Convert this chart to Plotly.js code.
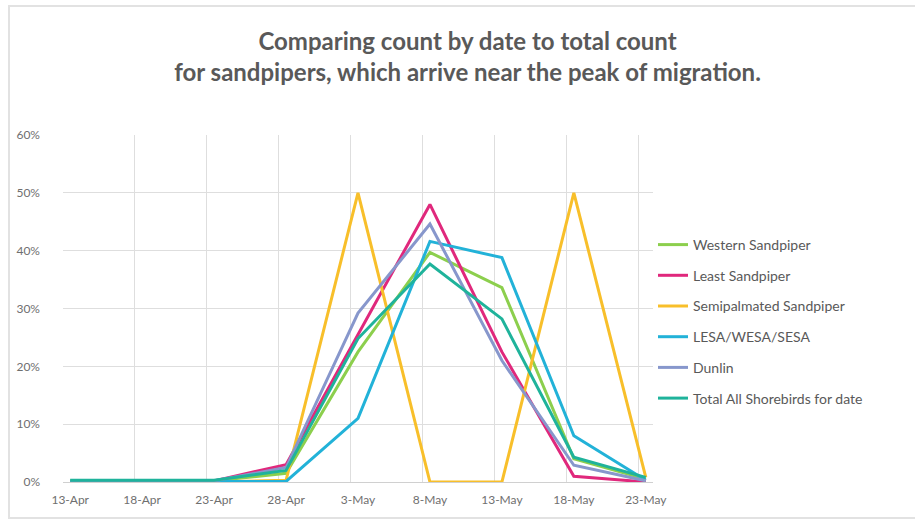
<!DOCTYPE html>
<html>
<head>
<meta charset="utf-8">
<script src="https://cdn.plot.ly/plotly-3.0.1.min.js"></script>
<style>
  html, body { margin: 0; padding: 0; background: #ffffff; overflow: hidden; }
  #wrap { position: relative; width: 915px; height: 523px; }
  #chart { position: absolute; left: 0; top: 0; width: 915px; height: 523px; }
  #frame { position: absolute; left: 8px; top: 5px; width: 915px; height: 514px;
           border: 2px solid #e2e2e2; pointer-events: none; box-sizing: border-box; }
</style>
</head>
<body>
<div id="wrap"><div id="chart"></div><div id="frame"></div></div>
<script>
// ---- data (values in percent) ----
const dates = ["2016-04-13","2016-04-18","2016-04-23","2016-04-28","2016-05-03","2016-05-08","2016-05-13","2016-05-18","2016-05-23"];
const dateLabels = ["13-Apr","18-Apr","23-Apr","28-Apr","3-May","8-May","13-May","18-May","23-May"];
const seriesNames = ["Western Sandpiper","Least Sandpiper","Semipalmated Sandpiper","LESA/WESA/SESA","Dunlin","Total All Shorebirds for date"];
const westernSandpiper = [0.2, 0.2, 0.2, 1.5, 22.5, 39.7, 33.6, 4.0, 0.5];
const leastSandpiper   = [0.1, 0.2, 0.2, 3.0, 25.5, 48.0, 22.5, 1.0, 0.0];
const semipalmated     = [0.0, 0.0, 0.0, 0.3, 50.0, 0.0, 0.0, 50.0, 0.8];
const lesaWesaSesa     = [0.1, 0.1, 0.1, 0.1, 11.0, 41.6, 38.8, 8.0, 0.3];
const dunlin           = [0.1, 0.1, 0.2, 2.5, 29.2, 44.6, 21.0, 2.9, 0.2];
const totalShorebirds  = [0.3, 0.3, 0.3, 2.0, 24.8, 37.7, 28.2, 4.3, 0.8];
const yTicks = [0, 10, 20, 30, 40, 50, 60];

const colors = ["#8ccf4d", "#e0287c", "#f8bf2a", "#22b2d8", "#8797cc", "#1fb39b"];
const allSeries = [westernSandpiper, leastSandpiper, semipalmated, lesaWesaSesa, dunlin, totalShorebirds];

const DAY = 86400000;
const toDate = s => new Date(s + "T00:00:00Z");
const fmt = ms => new Date(ms).toISOString().slice(0, 19).replace("T", " ");
// gridlines sit half a day before each labelled date (Excel "between tick marks")
const gridVals = dates.map(d => fmt(toDate(d).getTime() - DAY / 2));
const xStart = fmt(toDate(dates[0]).getTime() - DAY / 2);
const xEnd = fmt(toDate(dates[dates.length - 1]).getTime() + DAY / 2);

const traces = allSeries.map((vals, i) => ({
  type: "scatter",
  mode: "lines",
  name: seriesNames[i],
  legendgroup: "g" + i,
  x: dates,
  y: vals.map(v => v / 100),
  line: { color: colors[i], width: 3 },
  hoverinfo: "x+y+name"
}));

const layout = {
  width: 915, height: 523,
  paper_bgcolor: "rgba(0,0,0,0)",
  plot_bgcolor: "#ffffff",
  margin: { l: 63, r: 262, t: 135, b: 41 },
  font: { family: "Lato, 'Open Sans', sans-serif", color: "#595959" },
  title: {
    text: "<b>Comparing count by date to total count<br>for sandpipers, which arrive near the peak of migration.</b>",
    font: { family: "Lato, 'Open Sans', sans-serif", size: 24, color: "#595959" },
    xref: "container", yref: "container",
    x: 0.511, xanchor: "center",
    y: 1 - 50 / 523, yanchor: "middle"
  },
  xaxis: {
    type: "date",
    range: [xStart, xEnd],
    tickmode: "array",
    tickvals: dates,
    ticktext: dateLabels,
    showgrid: false,
    zeroline: false,
    showline: false,
    ticks: "",
    ticklabelstandoff: 9,
    tickfont: { size: 12, color: "#6f6f6f" },
    minor: {
      tickmode: "array",
      tickvals: gridVals,
      showgrid: true,
      gridcolor: "#dedede",
      gridwidth: 1,
      ticks: ""
    },
    fixedrange: true
  },
  yaxis: {
    range: [0, 0.6],
    tickmode: "array",
    tickvals: yTicks.map(v => v / 100),
    tickformat: ".0%",
    showgrid: true,
    gridcolor: "#dedede",
    gridwidth: 1,
    zeroline: true,
    zerolinecolor: "#d0d0d0",
    zerolinewidth: 1,
    showline: false,
    ticks: "",
    ticklabelstandoff: 22,
    tickfont: { size: 12, color: "#6f6f6f" },
    fixedrange: true
  },
  showlegend: true,
  legend: {
    x: (653 - 63) / 590, xanchor: "left",
    y: (482 - 229) / 347, yanchor: "top",
    font: { size: 14, color: "#595959", family: "Lato, 'Open Sans', sans-serif" },
    traceorder: "grouped",
    tracegroupgap: 9.5,
    bgcolor: "rgba(0,0,0,0)"
  }
};

Plotly.newPlot("chart", traces, layout, { displayModeBar: false, staticPlot: true });
</script>
</body>
</html>
